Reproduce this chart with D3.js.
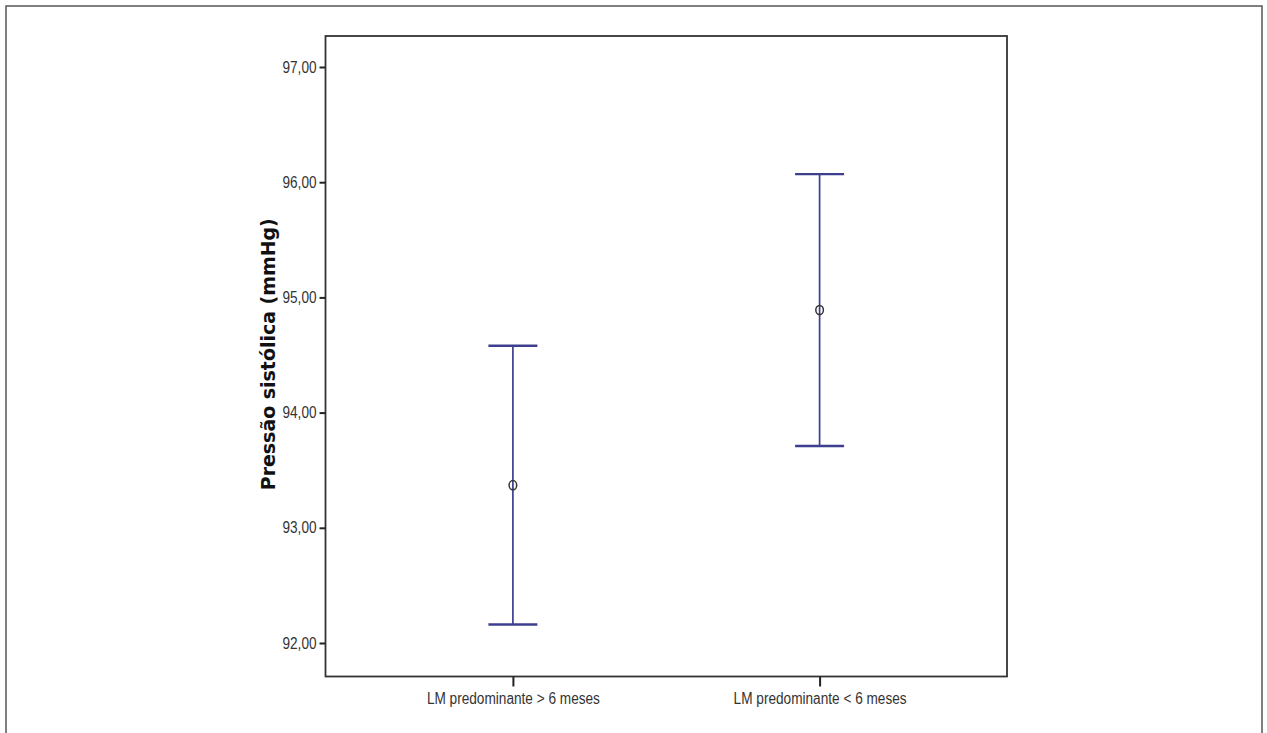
<!DOCTYPE html>
<html><head><meta charset="utf-8">
<script src="https://cdn.jsdelivr.net/npm/d3@7"></script>
<style>body{margin:0;background:#fff}svg{display:block}</style>
</head><body>
<script>
const categories = ["LM predominante > 6 meses", "LM predominante < 6 meses"];
const means = [93.37, 94.89];
const lower = [92.16, 93.71];
const upper = [94.58, 96.07];
const yTicks = [92, 93, 94, 95, 96, 97];
const yTitle = "Pressão sistólica (mmHg)";

const W = 1267, H = 733;
const svg = d3.select("body").append("svg").attr("width", W).attr("height", H);

// outer frame
svg.append("rect").attr("x", 6).attr("y", 6).attr("width", 1256).attr("height", 740)
  .attr("fill", "none").attr("stroke", "#555").attr("stroke-width", 1.5);

const L = 325.5, R = 1007, T = 36, B = 676.5;
const y = d3.scaleLinear().domain([97, 92]).range([67, 643]);
const x = d3.scalePoint().domain(categories).range([L, R]).padding(0.611);

const g = svg.append("g");
g.append("rect").attr("x", L).attr("y", T).attr("width", R - L).attr("height", B - T)
  .attr("fill", "none").attr("stroke", "#333").attr("stroke-width", 1.8);

const yAxis = d3.axisLeft(y).tickValues(yTicks).tickSize(6).tickPadding(3)
  .tickFormat(d => d3.format(".2f")(d).replace(".", ","));
const ya = g.append("g").attr("transform", `translate(${L},0)`).call(yAxis);
ya.select(".domain").remove();
ya.selectAll("line").attr("stroke", "#222").attr("stroke-width", 2);
ya.selectAll("text").attr("font-family", "Liberation Sans, Arial, sans-serif").attr("font-size", 16)
  .attr("fill", "#333").attr("textLength", 34).attr("lengthAdjust", "spacingAndGlyphs");

const xAxis = d3.axisBottom(x).tickSize(10).tickPadding(6);
const xa = g.append("g").attr("transform", `translate(0,${B})`).call(xAxis);
xa.select(".domain").remove();
xa.selectAll("line").attr("stroke", "#222").attr("stroke-width", 2);
xa.selectAll("text").attr("font-family", "Liberation Sans, Arial, sans-serif").attr("font-size", 16)
  .attr("fill", "#333").attr("textLength", 173).attr("lengthAdjust", "spacingAndGlyphs");

svg.append("text").attr("transform", `translate(275,${(T + B) / 2 - 2}) rotate(-90)`)
  .attr("text-anchor", "middle").attr("font-family", "DejaVu Sans, sans-serif")
  .attr("font-weight", "bold").attr("font-size", 19).attr("fill", "#111")
  .attr("textLength", 272).attr("lengthAdjust", "spacingAndGlyphs").text(yTitle);

const col = "#3e3e8e";
const data = categories.map((c, i) => ({c, m: means[i], lo: lower[i], hi: upper[i]}));
const eb = g.selectAll(".eb").data(data).join("g");
eb.append("line").attr("x1", d => x(d.c)).attr("x2", d => x(d.c))
  .attr("y1", d => y(d.hi)).attr("y2", d => y(d.lo)).attr("stroke", col).attr("stroke-width", 1.7);
eb.append("line").attr("x1", d => x(d.c) - 24.5).attr("x2", d => x(d.c) + 24.5)
  .attr("y1", d => y(d.hi)).attr("y2", d => y(d.hi)).attr("stroke", col).attr("stroke-width", 2.4);
eb.append("line").attr("x1", d => x(d.c) - 24.5).attr("x2", d => x(d.c) + 24.5)
  .attr("y1", d => y(d.lo)).attr("y2", d => y(d.lo)).attr("stroke", col).attr("stroke-width", 2.4);
eb.append("ellipse").attr("cx", d => x(d.c)).attr("cy", d => y(d.m)).attr("rx", 3.8).attr("ry", 4.6)
  .attr("fill", "none").attr("stroke", "#333").attr("stroke-width", 1.5);
</script>
</body></html>
